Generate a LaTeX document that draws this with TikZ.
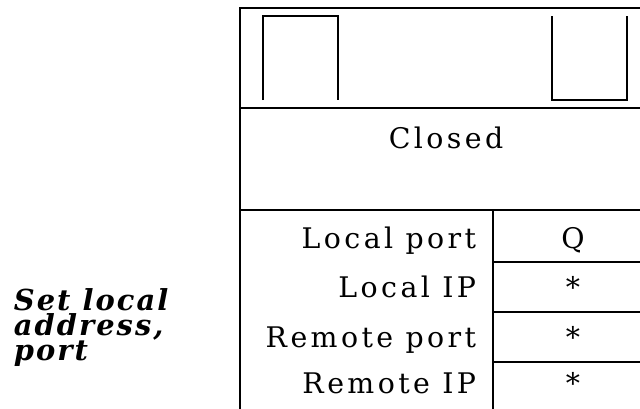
\documentclass[tikz,border=0pt]{standalone}
\usepackage{fontspec}
\setmainfont{DejaVu Serif}[LetterSpace=12]
\newfontfamily\opfont{DejaVu Serif}[LetterSpace=7]
\begin{document}
\begin{tikzpicture}[x=1bp, y=-1bp, line width=1.8bp,
  txt/.style={inner sep=0pt, font=\fontsize{28.5}{30}\selectfont}]
  \useasboundingbox (0,0) rectangle (640,408);
  \clip (0,0) rectangle (640,408);
  % outer frame and dividers
  \draw (660,8) -- (240,8) -- (240,420);
  \draw (240,108) -- (660,108);
  \draw (240,210) -- (660,210);
  \draw (493,210) -- (493,420);
  \draw (493,262) -- (660,262);
  \draw (493,312) -- (660,312);
  \draw (493,362) -- (660,362);
  % open boxes in the top strip
  \draw (263,100) -- (263,16) -- (338,16) -- (338,100);
  \draw (552,16) -- (552,100) -- (627,100) -- (627,16);
  % state name
  \node[txt, anchor=base] (state) at (446,148) {Closed};
  % field names
  \node[txt, anchor=base east] (lport) at (477,248) {Local port};
  \node[txt, anchor=base east] (lip) at (477,297) {Local IP};
  \node[txt, anchor=base east] (rport) at (477,347) {Remote port};
  \node[txt, anchor=base east] (rip) at (477,393) {Remote IP};
  % field values
  \node[txt, anchor=base] (vlport) at (573,248) {Q};
  \node[txt, anchor=base] (vlip) at (573,297) {*};
  \node[txt, anchor=base] (vrport) at (573,347) {*};
  \node[txt, anchor=base] (vrip) at (573,393) {*};
  % operation
  \node[inner sep=0pt, anchor=base west, align=left,
    font=\opfont\fontsize{29}{25}\selectfont\bfseries\itshape] (op) at (13,360)
    {Set local\\address,\\port};
\end{tikzpicture}
\end{document}
